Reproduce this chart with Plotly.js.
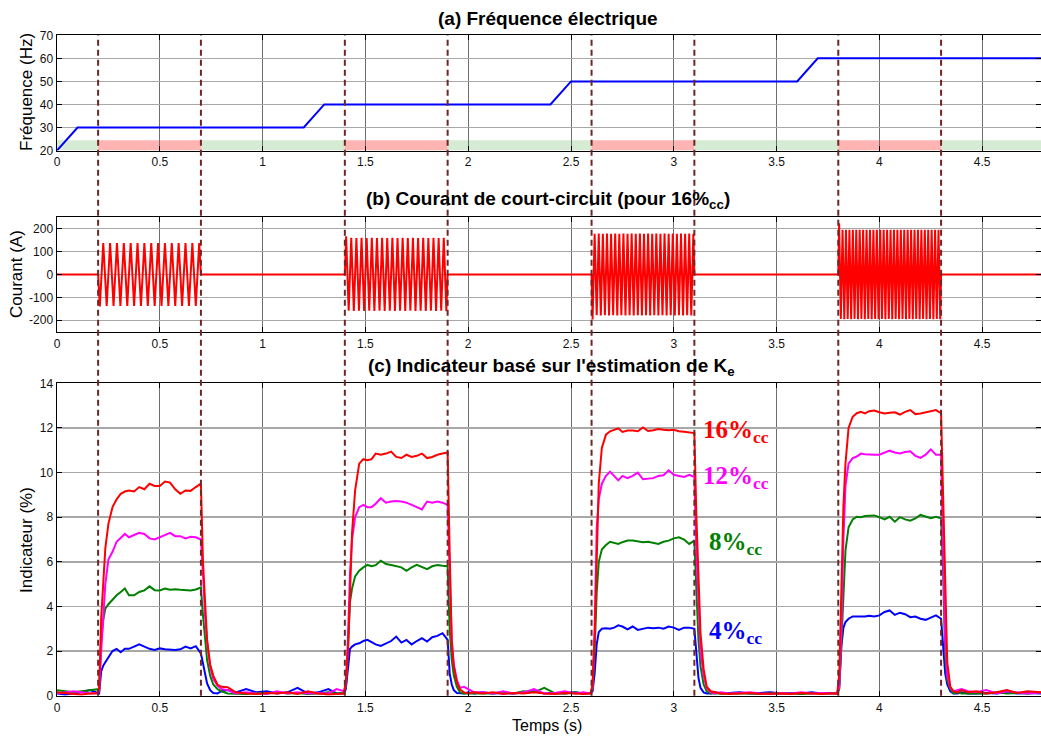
<!DOCTYPE html>
<html>
<head>
<meta charset="utf-8">
<script src="https://cdn.plot.ly/plotly-3.0.1.min.js"></script>
<style>html,body{margin:0;padding:0;background:#fff;overflow:hidden}#chart{width:1041px;height:736px}</style>
</head>
<body>
<div id="chart"></div>
<script>
// ---------- Panel (a): electrical frequency ----------
const freqTime = [0, 0.1, 1.2, 1.3, 2.4, 2.5, 3.6, 3.7, 4.8];
const freqValue = [20, 30, 30, 40, 40, 50, 50, 60, 60];

// fault windows (red bands / dashed lines)
const faultStart = [0.2, 1.4, 2.6, 3.8];
const faultEnd = [0.7, 1.9, 3.1, 4.3];
const faultFreq = [30, 40, 50, 60];

// ---------- Panel (b): short-circuit current, successive half-cycle peaks (A) ----------
const peaksBurst1 = [-140,137,-137,138,-137,137,-138,137,-137,138,-137,137,-138,137,-137,138,-137,137,-138,137,-137,138,-137,137,-138,137,-137,138,-137,138];
const peaksBurst2 = [167,-158,160,-159,159,-158,160,-159,159,-158,160,-159,159,-158,160,-159,159,-158,160,-159,159,-158,160,-159,159,-158,160,-159,159,-158,160,-159,159,-158,160,-159,159,-158,160,-160];
const peaksBurst3 = [-197,178,-178,179,-179,178,-178,179,-179,178,-178,179,-179,178,-178,179,-179,178,-178,179,-179,178,-178,179,-179,178,-178,179,-179,178,-178,179,-179,178,-178,179,-179,178,-178,179,-179,178,-178,179,-179,178,-178,179,-179,178];
const peaksBurst4 = [224,-194,196,-195,195,-194,196,-195,195,-194,196,-195,195,-194,196,-195,195,-194,196,-195,195,-194,196,-195,195,-194,196,-195,195,-194,196,-195,195,-194,196,-195,195,-194,196,-195,195,-194,196,-195,195,-194,196,-195,195,-194,196,-195,195,-194,196,-195,195,-194,196,-195];
const currentPeaks = [peaksBurst1, peaksBurst2, peaksBurst3, peaksBurst4];

// ---------- Panel (c): indicator based on Ke estimation (%) ----------
const temps = [
0, 0.04, 0.08, 0.12, 0.16, 0.195,
0.205, 0.215, 0.225, 0.235, 0.25, 0.27, 0.29, 0.31, 0.33, 0.35, 0.375, 0.4, 0.425, 0.45, 0.475, 0.5, 0.525, 0.55, 0.575, 0.6, 0.625, 0.65, 0.675, 0.7,
0.71, 0.72, 0.73, 0.745, 0.76, 0.78, 0.8, 0.83,
0.87, 0.92, 0.97, 1.02, 1.07, 1.12, 1.17, 1.22, 1.27, 1.32, 1.36, 1.395,
1.405, 1.415, 1.425, 1.435, 1.45, 1.47, 1.49, 1.51, 1.53, 1.55, 1.575, 1.6, 1.625, 1.65, 1.675, 1.7, 1.725, 1.75, 1.775, 1.8, 1.825, 1.85, 1.875, 1.9,
1.91, 1.92, 1.93, 1.945, 1.96, 1.98, 2.0, 2.03,
2.07, 2.12, 2.17, 2.22, 2.27, 2.32, 2.37, 2.42, 2.47, 2.52, 2.56, 2.595,
2.605, 2.615, 2.625, 2.635, 2.65, 2.67, 2.69, 2.71, 2.73, 2.75, 2.775, 2.8, 2.825, 2.85, 2.875, 2.9, 2.925, 2.95, 2.975, 3.0, 3.025, 3.05, 3.075, 3.1,
3.11, 3.12, 3.13, 3.145, 3.16, 3.18, 3.2, 3.23,
3.27, 3.32, 3.37, 3.42, 3.47, 3.52, 3.57, 3.62, 3.67, 3.72, 3.76, 3.795,
3.805, 3.815, 3.825, 3.835, 3.85, 3.87, 3.89, 3.91, 3.93, 3.95, 3.975, 4.0, 4.025, 4.05, 4.075, 4.1, 4.125, 4.15, 4.175, 4.2, 4.225, 4.25, 4.275, 4.3,
4.31, 4.32, 4.33, 4.345, 4.36, 4.38, 4.4, 4.43,
4.47, 4.52, 4.57, 4.62, 4.67, 4.72, 4.8];

const ind16 = [
0.15, 0.1, 0.08, 0.05, 0.1, 0.1,
0.3, 3.5, 5.3, 6.6, 7.7, 8.45, 8.8, 9.05, 9.15, 9.2, 9.15, 9.35, 9.25, 9.5, 9.4, 9.4, 9.6, 9.55, 9.25, 9.05, 9.2, 9.18, 9.35, 9.5,
6.0, 3.9, 2.5, 1.4, 0.9, 0.5, 0.4, 0.38,
0.15, 0.1, 0.08, 0.12, 0.1, 0.15, 0.08, 0.2, 0.1, 0.05, 0.08, 0.1,
0.6, 2.0, 4.5, 7.3, 9.2, 10.4, 10.6, 10.55, 10.6, 10.85, 10.8, 10.85, 10.94, 10.7, 10.65, 10.8, 10.7, 10.75, 10.85, 10.65, 10.7, 10.8, 10.85, 10.9,
6.4, 2.4, 1.3, 0.6, 0.28, 0.15, 0.1, 0.15,
0.1, 0.15, 0.08, 0.12, 0.1, 0.15, 0.1, 0.08, 0.12, 0.1, 0.08, 0.1,
0.5, 2.6, 6.5, 9.5, 11.1, 11.7, 11.85, 11.92, 11.98, 11.82, 11.88, 11.88, 11.85, 12.02, 11.86, 11.9, 11.95, 11.92, 11.9, 11.92, 11.85, 11.83, 11.8, 11.77,
8.0, 5.0, 2.8, 1.2, 0.4, 0.2, 0.15, 0.1,
0.08, 0.1, 0.12, 0.08, 0.1, 0.1, 0.08, 0.12, 0.1, 0.08, 0.1, 0.1,
1.0, 4.8, 8.5, 10.4, 12.0, 12.5, 12.66, 12.72, 12.65, 12.75, 12.78, 12.7, 12.65, 12.68, 12.7, 12.6, 12.72, 12.8, 12.62, 12.65, 12.7, 12.75, 12.8, 12.66,
9.0, 4.0, 1.5, 0.4, 0.2, 0.15, 0.25, 0.15,
0.2, 0.1, 0.15, 0.25, 0.12, 0.2, 0.15];

const ind12 = [
0.1, 0.15, 0.2, 0.15, 0.1, 0.12,
0.2, 2.0, 3.8, 5.0, 6.1, 6.45, 6.9, 7.1, 7.25, 7.1, 7.2, 7.3, 7.25, 7.05, 7.0, 7.1, 7.2, 7.3, 7.15, 7.15, 7.05, 7.12, 7.1, 7.0,
5.5, 3.6, 2.4, 1.3, 0.75, 0.45, 0.3, 0.25,
0.1, 0.15, 0.1, 0.08, 0.2, 0.1, 0.15, 0.1, 0.12, 0.1, 0.3, 0.2,
0.5, 2.5, 5.5, 7.0, 8.0, 8.45, 8.55, 8.45, 8.45, 8.6, 8.85, 8.65, 8.7, 8.72, 8.7, 8.65, 8.55, 8.45, 8.35, 8.7, 8.65, 8.7, 8.65, 8.55,
5.0, 2.5, 1.4, 0.7, 0.35, 0.4, 0.3, 0.15,
0.15, 0.1, 0.2, 0.1, 0.15, 0.3, 0.1, 0.12, 0.2, 0.1, 0.15, 0.1,
0.4, 3.0, 7.5, 8.8, 9.5, 9.85, 10.04, 9.85, 9.65, 9.85, 9.75, 9.85, 10.0, 9.7, 9.72, 9.75, 9.85, 9.88, 10.1, 9.9, 9.85, 9.8, 9.9, 9.8,
6.5, 3.8, 2.0, 0.9, 0.35, 0.15, 0.1, 0.15,
0.1, 0.12, 0.15, 0.1, 0.08, 0.12, 0.1, 0.15, 0.1, 0.12, 0.1, 0.1,
0.4, 3.0, 7.0, 9.4, 10.4, 10.65, 10.72, 10.85, 10.82, 10.8, 10.8, 10.8, 10.9, 10.98, 10.9, 10.86, 10.92, 10.95, 10.75, 10.66, 10.8, 11.04, 10.8, 10.8,
6.5, 2.5, 0.9, 0.35, 0.2, 0.25, 0.3, 0.2,
0.15, 0.25, 0.1, 0.2, 0.15, 0.1, 0.15];

const ind8 = [
0.25, 0.2, 0.15, 0.2, 0.25, 0.3,
0.3, 2.5, 3.4, 3.9, 4.1, 4.3, 4.5, 4.65, 4.8, 4.5, 4.5, 4.65, 4.72, 4.9, 4.73, 4.72, 4.8, 4.75, 4.77, 4.75, 4.74, 4.72, 4.76, 4.85,
3.6, 2.4, 1.6, 0.9, 0.5, 0.3, 0.2, 0.1,
0.1, 0.08, 0.12, 0.1, 0.15, 0.1, 0.12, 0.08, 0.1, 0.15, 0.1, 0.12,
0.4, 2.0, 4.2, 4.8, 5.35, 5.6, 5.75, 5.86, 5.8, 5.85, 6.05, 5.9, 5.86, 5.8, 5.75, 5.6, 5.75, 5.86, 5.75, 5.67, 5.8, 5.86, 5.82, 5.8,
3.0, 1.6, 0.9, 0.4, 0.15, 0.1, 0.1, 0.1,
0.12, 0.1, 0.15, 0.1, 0.2, 0.15, 0.35, 0.12, 0.1, 0.15, 0.1, 0.12,
0.3, 2.0, 4.6, 6.0, 6.55, 6.75, 6.9, 6.85, 6.8, 6.88, 6.95, 6.95, 6.9, 6.88, 6.9, 6.85, 6.8, 6.9, 6.95, 7.05, 7.1, 7.0, 6.8, 6.95,
4.5, 2.5, 1.3, 0.5, 0.2, 0.1, 0.1, 0.1,
0.1, 0.12, 0.1, 0.08, 0.1, 0.12, 0.1, 0.08, 0.1, 0.12, 0.1, 0.1,
0.3, 2.5, 4.8, 6.5, 7.55, 7.9, 8.02, 8.0, 8.05, 8.05, 8.08, 8.0, 7.9, 8.02, 7.8, 8.0, 7.9, 7.84, 7.95, 8.1, 8.02, 7.95, 8.02, 7.95,
5.5, 1.8, 0.7, 0.3, 0.1, 0.15, 0.1, 0.1,
0.12, 0.1, 0.15, 0.1, 0.12, 0.1, 0.15];

const ind4 = [
0.1, 0.05, 0.1, 0.15, 0.25, 0.15,
0.1, 1.1, 1.35, 1.5, 1.7, 2.0, 2.1, 1.95, 2.1, 2.1, 2.2, 2.3, 2.2, 2.1, 2.05, 2.12, 2.08, 2.07, 2.05, 2.08, 2.2, 2.12, 2.22, 1.9,
1.4, 0.9, 0.55, 0.25, 0.12, 0.1, 0.2, 0.25,
0.15, 0.3, 0.15, 0.2, 0.1, 0.15, 0.35, 0.1, 0.15, 0.3, 0.1, 0.1,
0.3, 1.2, 2.1, 2.2, 2.3, 2.35, 2.45, 2.5, 2.38, 2.3, 2.23, 2.35, 2.45, 2.65, 2.38, 2.5, 2.3, 2.45, 2.58, 2.43, 2.62, 2.68, 2.8, 2.5,
1.0, 0.5, 0.25, 0.12, 0.1, 0.1, 0.15, 0.1,
0.15, 0.1, 0.12, 0.1, 0.15, 0.2, 0.1, 0.12, 0.1, 0.15, 0.1, 0.12,
0.2, 1.0, 2.3, 2.85, 3.0, 3.02, 3.0, 3.05, 3.15, 3.1, 2.97, 3.1, 2.95, 3.0, 3.05, 3.02, 3.05, 3.0, 3.1, 3.05, 2.95, 3.05, 3.05, 3.0,
1.8, 0.8, 0.35, 0.15, 0.1, 0.1, 0.15, 0.1,
0.12, 0.15, 0.1, 0.12, 0.15, 0.1, 0.12, 0.1, 0.15, 0.1, 0.12, 0.1,
0.5, 2.2, 3.05, 3.3, 3.45, 3.55, 3.55, 3.52, 3.55, 3.58, 3.55, 3.6, 3.75, 3.82, 3.62, 3.72, 3.65, 3.52, 3.55, 3.45, 3.4, 3.5, 3.6, 3.45,
2.0, 1.0, 0.5, 0.2, 0.1, 0.1, 0.15, 0.1,
0.1, 0.12, 0.1, 0.15, 0.1, 0.12, 0.1];

// tick labels
const xTickVals = [0, 0.5, 1, 1.5, 2, 2.5, 3, 3.5, 4, 4.5];
const xTickText = ['0', '0.5', '1', '1.5', '2', '2.5', '3', '3.5', '4', '4.5'];
const freqTicks = [20, 30, 40, 50, 60, 70];
const curTickVals = [-200, -100, 0, 100, 200];
const curTickText = ['-200', '-100', '0', '100', '200'];
const indTicks = [0, 2, 4, 6, 8, 10, 12, 14];

const seriesLabels = ['16%', '12%', '8%', '4%'];
const seriesColors = ['#ff0000', '#ff00ff', '#008000', '#0000ff'];
const labelX = [3.13, 3.13, 3.16, 3.16];
const labelY = [11.85, 9.8, 6.8, 2.85];

// ---------- build current waveform (zigzag through peaks) ----------
const curX = [0], curY = [0];
for (let i = 0; i < faultStart.length; i++) {
  const half = 1 / (2 * faultFreq[i]);
  curX.push(faultStart[i]); curY.push(0);
  currentPeaks[i].forEach((p, k) => { curX.push(faultStart[i] + (k + 0.5) * half); curY.push(p); });
  curX.push(faultEnd[i]); curY.push(0);
}
curX.push(4.8); curY.push(0);

// ---------- layout ----------
const W = 1041, H = 736, L = 57, R = 0;
const pw = W - L - R;
const px = v => (v - L) / pw;
const py = v => 1 - v / H;
const tickFont = {family: 'Liberation Sans, Arial, sans-serif', size: 12, color: '#111'};
function xax(extra) {
  return Object.assign({range: [0, 4.786], tickvals: xTickVals, ticktext: xTickText, showgrid: true,
    gridcolor: '#6e6e6e', gridwidth: 1, showline: true, linecolor: '#000', linewidth: 1.5, mirror: 'ticks',
    ticks: 'inside', ticklen: 5, tickcolor: '#000', tickfont: tickFont, zeroline: false, fixedrange: true}, extra);
}
function yax(extra) {
  return Object.assign({showgrid: true, gridcolor: '#a8a8a8', gridwidth: 1.5, showline: true, linecolor: '#000',
    linewidth: 1.5, mirror: 'ticks', ticks: 'inside', ticklen: 5, tickcolor: '#000', tickfont: tickFont,
    zeroline: false, fixedrange: true}, extra);
}
const domA = [py(150.5), py(35.3)], domB = [py(331.7), py(217.3)], domC = [py(695.7), py(383.3)];

const shapes = [];
// band in panel (a)
const bandEdges = [0].concat(...faultStart.map((s, i) => [s, faultEnd[i]]), [4.8]);
for (let i = 0; i < bandEdges.length - 1; i++) {
  shapes.push({type: 'rect', xref: 'x', yref: 'y', x0: bandEdges[i], x1: bandEdges[i + 1], y0: 20, y1: 24.5,
    fillcolor: i % 2 === 0 ? '#d6ebd4' : '#ffb4b4', line: {width: 0}, layer: 'below'});
}
// dashed event lines across all panels
faultStart.concat(faultEnd).forEach(t => {
  shapes.push({type: 'line', xref: 'x', yref: 'paper', x0: t, x1: t, y0: domC[0], y1: domA[1],
    line: {color: '#6e2626', width: 2, dash: '6px,4px'}, layer: 'above'});
});

const titleFont = {family: 'Liberation Sans, Arial, sans-serif', size: 19, color: '#000'};
const axTitleFont = {family: 'Liberation Sans, Arial, sans-serif', size: 17, color: '#000'};
const annotations = [
  {text: '<b>(a) Fréquence électrique</b>', x: px(548), y: py(18), font: titleFont},
  {text: '<b>(b) Courant de court-circuit (pour 16%<sub>cc</sub>)</b>', x: px(548), y: py(200), font: titleFont},
  {text: "<b>(c) Indicateur basé sur l'estimation de K<sub>e</sub></b>", x: px(551), y: py(367), font: titleFont},
  {text: 'Fréquence (Hz)', x: px(26), y: py(92), textangle: -90, font: axTitleFont},
  {text: 'Courant (A)', x: px(17), y: py(274), textangle: -90, font: axTitleFont},
  {text: 'Indicateur (%)', x: px(26), y: py(540), textangle: -90, font: axTitleFont},
  {text: 'Temps (s)', x: px(547), y: py(725), font: {family: 'Liberation Sans, Arial, sans-serif', size: 16, color: '#000'}}
].map(a => Object.assign({xref: 'paper', yref: 'paper', showarrow: false, xanchor: 'center', yanchor: 'middle'}, a));
seriesLabels.forEach((s, i) => {
  annotations.push({text: '<b>' + s + '<sub>cc</sub></b>', xref: 'x3', yref: 'y3', x: labelX[i], y: labelY[i],
    xanchor: 'left', yanchor: 'middle', showarrow: false,
    font: {family: 'Liberation Serif, Times New Roman, serif', size: 25, color: seriesColors[i]}});
});

const traces = [
  {x: freqTime, y: freqValue, xaxis: 'x', yaxis: 'y', mode: 'lines', line: {color: '#0000ff', width: 2}},
  {x: curX, y: curY, xaxis: 'x2', yaxis: 'y2', mode: 'lines', line: {color: '#ff0000', width: 2}},
  {x: temps, y: ind4, xaxis: 'x3', yaxis: 'y3', mode: 'lines', line: {color: seriesColors[3], width: 2}},
  {x: temps, y: ind8, xaxis: 'x3', yaxis: 'y3', mode: 'lines', line: {color: seriesColors[2], width: 2}},
  {x: temps, y: ind12, xaxis: 'x3', yaxis: 'y3', mode: 'lines', line: {color: seriesColors[1], width: 2}},
  {x: temps, y: ind16, xaxis: 'x3', yaxis: 'y3', mode: 'lines', line: {color: seriesColors[0], width: 2}}
];

const layout = {
  width: W, height: H, margin: {l: L, r: R, t: 0, b: 0}, showlegend: false,
  paper_bgcolor: '#fff', plot_bgcolor: '#fff',
  xaxis: xax({anchor: 'y'}), xaxis2: xax({anchor: 'y2'}), xaxis3: xax({anchor: 'y3'}),
  yaxis: yax({domain: domA, range: [20, 70], tickvals: freqTicks, anchor: 'x'}),
  yaxis2: yax({domain: domB, range: [-250, 250], tickvals: curTickVals, ticktext: curTickText, anchor: 'x2'}),
  yaxis3: yax({domain: domC, range: [0, 14], tickvals: indTicks, anchor: 'x3'}),
  shapes: shapes, annotations: annotations
};
Plotly.newPlot('chart', traces, layout, {displayModeBar: false, staticPlot: true});
</script>
</body>
</html>
